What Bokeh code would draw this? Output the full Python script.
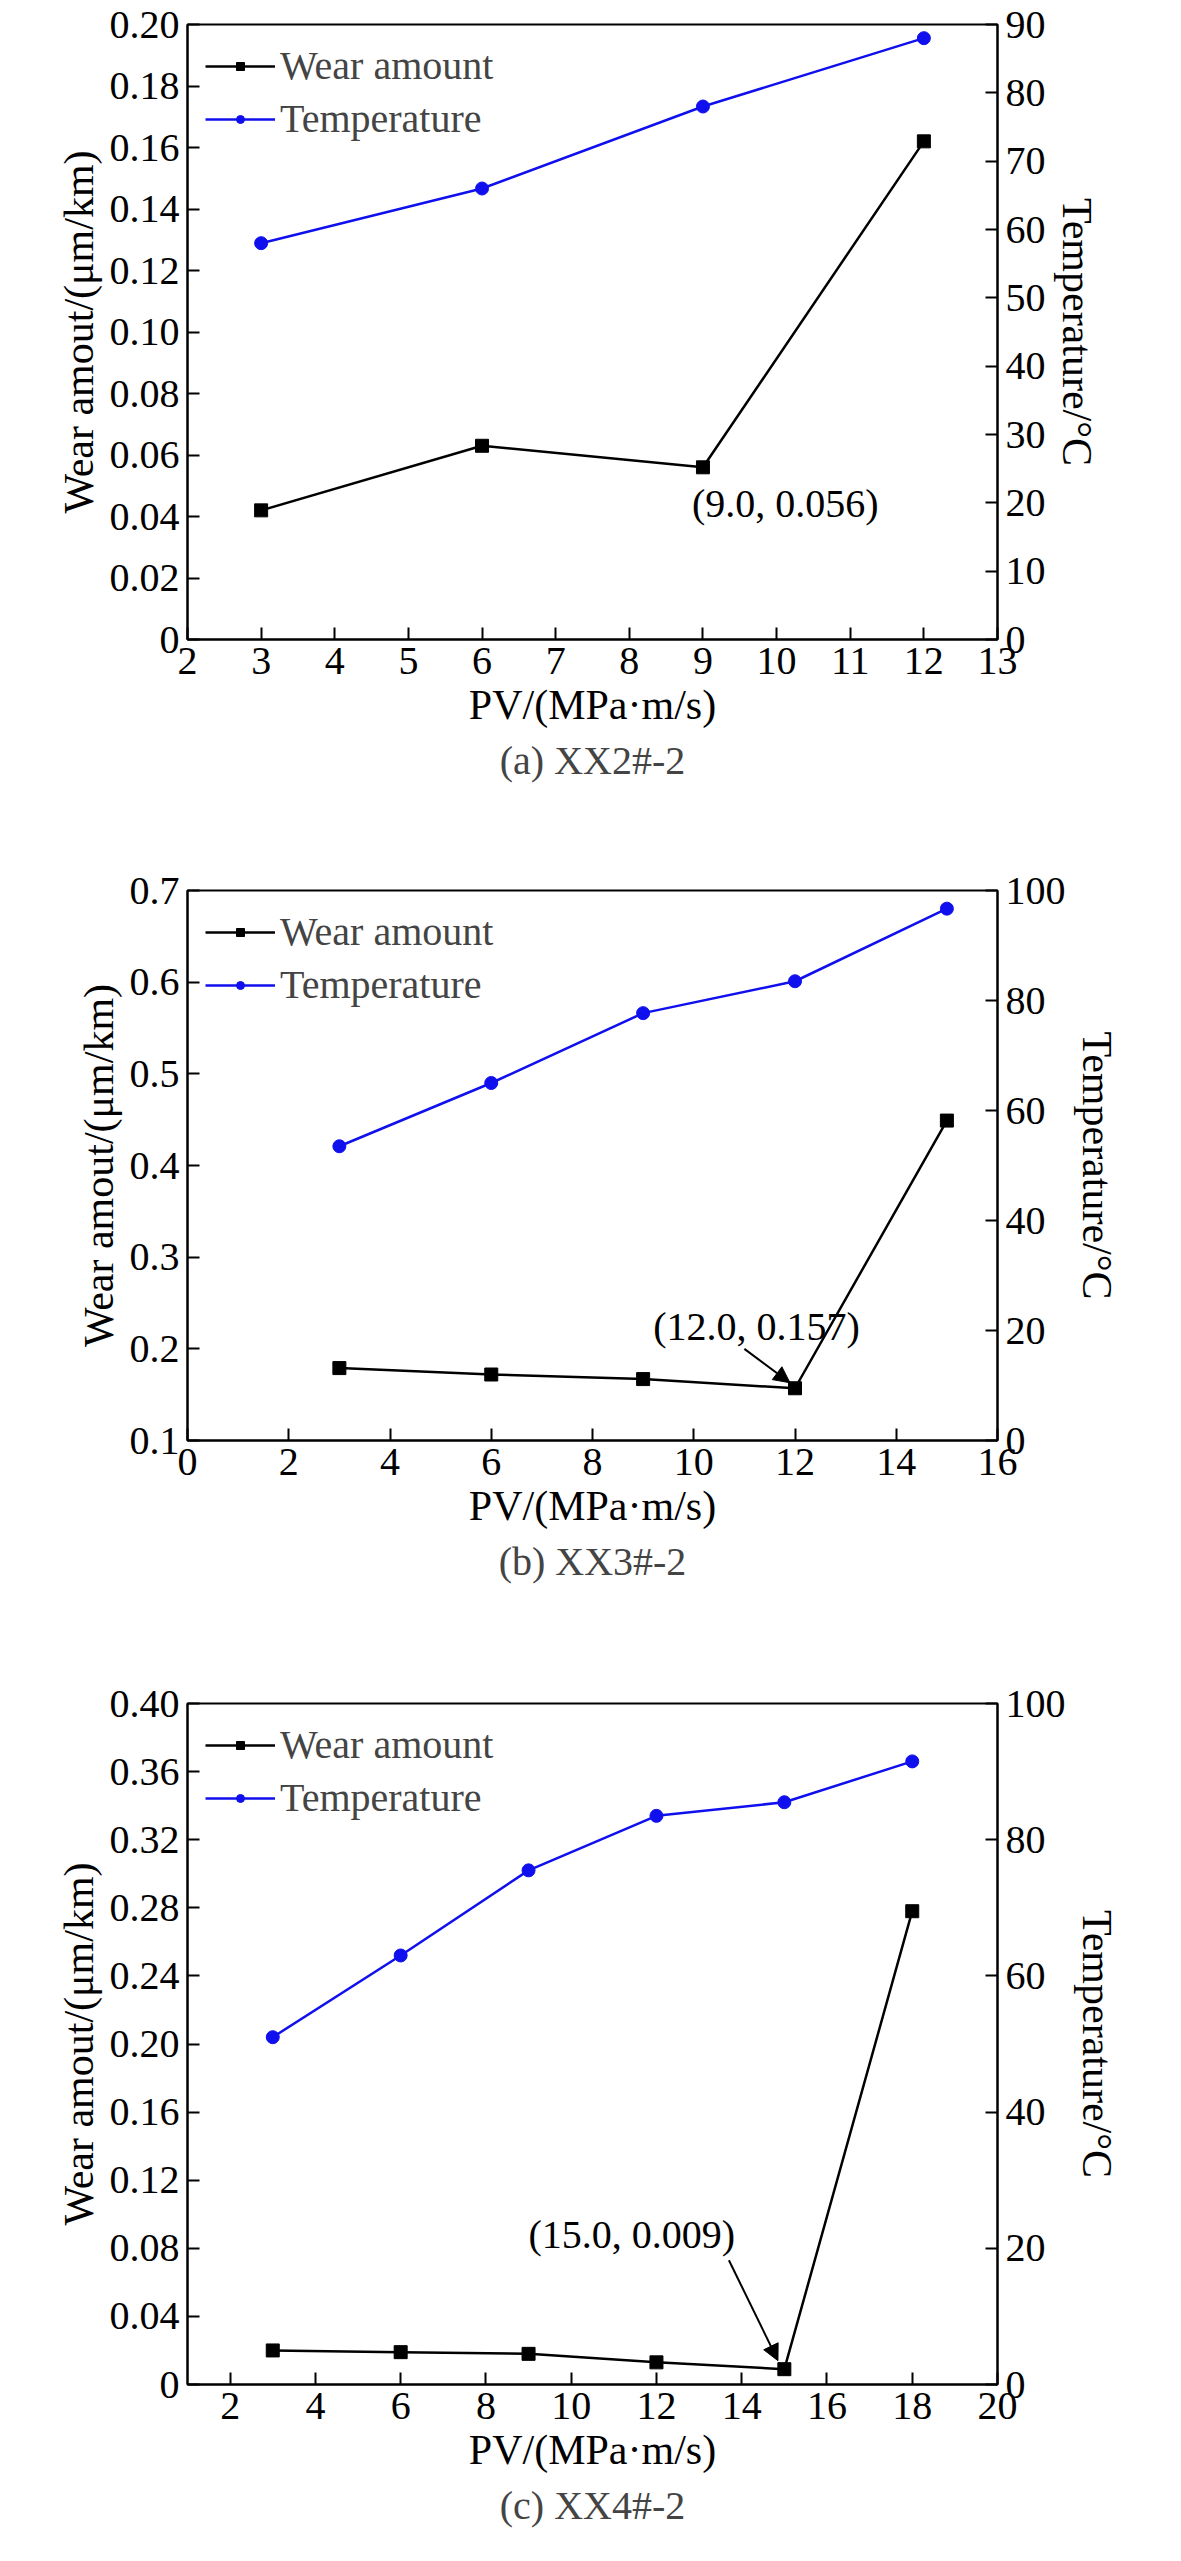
from bokeh.plotting import figure
from bokeh.models import LinearAxis, Range1d, Legend, LegendItem, Title, Label, Arrow, NormalHead, FixedTicker, Column
from bokeh.embed import file_html
from bokeh.resources import INLINE

# (a) XX2#-2
xa = [3, 6, 9, 12]
wear_a = [0.042, 0.063, 0.056, 0.162]
temp_a = [58, 66, 78, 88]
# (b) XX3#-2
xb = [3, 6, 9, 12, 15]
wear_b = [0.179, 0.172, 0.167, 0.157, 0.449]
temp_b = [53.5, 65, 77.7, 83.5, 96.7]
# (c) XX4#-2
xc = [3, 6, 9, 12, 15, 18]
wear_c = [0.020, 0.019, 0.018, 0.013, 0.009, 0.278]
temp_c = [51, 63, 75.5, 83.5, 85.5, 91.5]

FONT = "Liberation Serif"
BLUE = "#1010ee"

def panel(x, wear, temp, xr, xticks, yl, ylt, yr, yrt, caption, height, top, bottom,
          ann_text, ann_pos, arrow=None):
    p = figure(width=1165, height=height, output_backend="svg", toolbar_location=None,
               x_range=Range1d(*xr), y_range=Range1d(*yl),
               min_border_left=187, min_border_right=168, min_border_top=top, min_border_bottom=bottom)
    p.grid.visible = False
    p.outline_line_color = "black"
    p.outline_line_width = 2
    p.extra_y_ranges = {"t": Range1d(*yr)}
    ra = LinearAxis(y_range_name="t", axis_label="Temperature/°C")
    p.add_layout(ra, "right")
    p.xaxis.ticker = FixedTicker(ticks=xticks)
    p.yaxis[0].ticker = FixedTicker(ticks=ylt)
    ra.ticker = FixedTicker(ticks=yrt)
    p.xaxis.axis_label = "PV/(MPa·m/s)"
    p.yaxis[0].axis_label = "Wear amout/(μm/km)"
    for ax in p.xaxis + p.yaxis:
        ax.major_tick_in = 12
        ax.major_tick_out = 0
        ax.minor_tick_line_color = None
        ax.axis_line_width = 2
        ax.major_tick_line_width = 2
        ax.major_label_text_font = FONT
        ax.major_label_text_font_size = "40px"
        ax.major_label_text_color = "black"
        ax.major_label_standoff = 8
        ax.axis_label_text_font = FONT
        ax.axis_label_text_font_size = "42px"
        ax.axis_label_text_font_style = "normal"
        ax.axis_label_text_color = "black"
    p.yaxis[0].formatter.use_scientific = False
    l1 = p.line(x, wear, line_color="black", line_width=2.5)
    s1 = p.scatter(x, wear, marker="square", size=13, color="black")
    l2 = p.line(x, temp, y_range_name="t", line_color=BLUE, line_width=2.5)
    s2 = p.scatter(x, temp, y_range_name="t", marker="circle", size=13, color=BLUE)
    leg = Legend(items=[LegendItem(label="Wear amount", renderers=[l1, s1]),
                        LegendItem(label="Temperature", renderers=[l2, s2])],
                 location="top_left", border_line_color=None, background_fill_alpha=0,
                 label_text_font=FONT, label_text_font_size="40px", glyph_width=70,
                 spacing=6, margin=18)
    p.add_layout(leg)
    p.add_layout(Label(x=ann_pos[0], y=ann_pos[1], text=ann_text, text_font=FONT,
                       text_font_size="40px", text_color="black"))
    if arrow:
        p.add_layout(Arrow(x_start=arrow[0], y_start=arrow[1], x_end=arrow[2], y_end=arrow[3],
                           line_width=2, end=NormalHead(size=16, fill_color="black")))
    t = Title(text=caption, align="center", text_font=FONT, text_font_size="40px",
              text_font_style="normal")
    p.add_layout(t, "below")
    return p

pa = panel(xa, wear_a, temp_a, (2, 13), list(range(2, 14)), (0, 0.2),
           [0, 0.02, 0.04, 0.06, 0.08, 0.10, 0.12, 0.14, 0.16, 0.18, 0.20],
           (0, 90), list(range(0, 91, 10)), "(a) XX2#-2", 810, 24, 171,
           "(9.0, 0.056)", (8.85, 0.037))
pa.yaxis[0].major_label_overrides = {0: "0", 0.1: "0.10", 0.2: "0.20"}
pb = panel(xb, wear_b, temp_b, (0, 16), list(range(0, 17, 2)), (0.1, 0.7),
           [0.1, 0.2, 0.3, 0.4, 0.5, 0.6, 0.7], (0, 100), list(range(0, 101, 20)),
           "(b) XX3#-2", 805, 80, 175, "(12.0, 0.157)", (9.2, 0.2),
           arrow=(11.0, 0.2, 11.9, 0.163))
pc = panel(xc, wear_c, temp_c, (1, 20), list(range(2, 21, 2)), (0, 0.4),
           [0, 0.04, 0.08, 0.12, 0.16, 0.20, 0.24, 0.28, 0.32, 0.36, 0.40],
           (0, 100), list(range(0, 101, 20)), "(c) XX4#-2", 930, 88, 161,
           "(15.0, 0.009)", (9.0, 0.075), arrow=(13.7, 0.073, 14.85, 0.014))
pc.yaxis[0].major_label_overrides = {0: "0", 0.2: "0.20", 0.4: "0.40"}

layout = Column(pa, pb, pc, spacing=0)
open("out.html", "w").write(file_html(layout, INLINE))
